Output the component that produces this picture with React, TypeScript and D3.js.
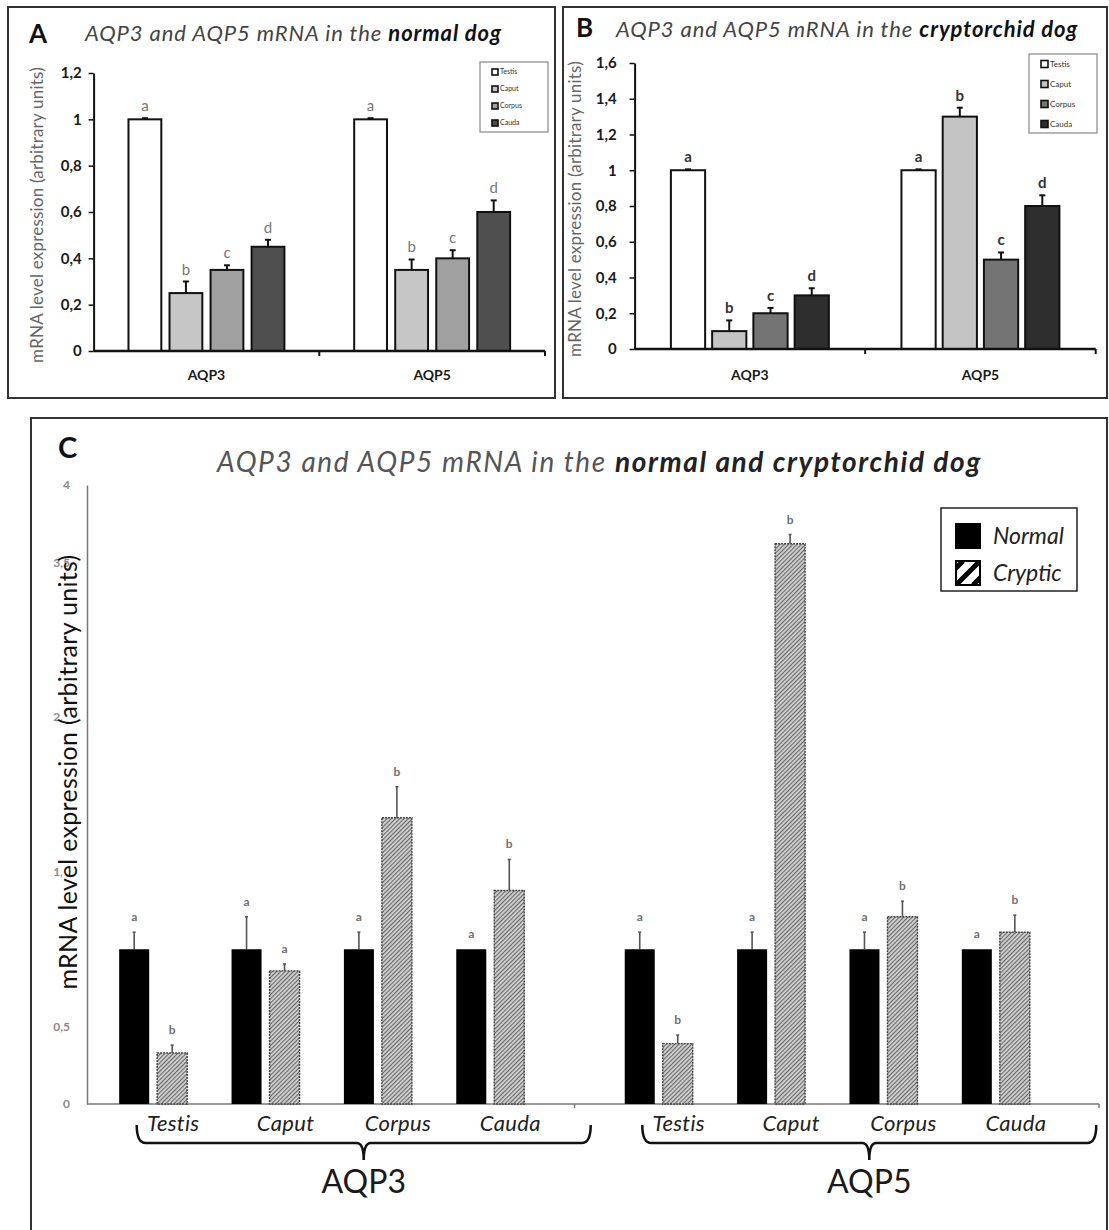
import React, { useRef, useEffect } from 'react'
import * as d3 from 'd3'

const genes = ['AQP3', 'AQP5']
const tissues = ['Testis', 'Caput', 'Corpus', 'Cauda']
const groupLetters = ['a', 'b', 'c', 'd']

// panel A - normal dog
const normalAqp3 = [1, 0.25, 0.35, 0.45]
const normalAqp3Err = [0.005, 0.05, 0.02, 0.03]
const normalAqp5 = [1, 0.35, 0.4, 0.6]
const normalAqp5Err = [0.005, 0.045, 0.035, 0.05]
const normalTicks = [0, 0.2, 0.4, 0.6, 0.8, 1, 1.2]

// panel B - cryptorchid dog
const cryptAqp3 = [1, 0.1, 0.2, 0.3]
const cryptAqp3Err = [0.005, 0.06, 0.03, 0.04]
const cryptAqp5 = [1, 1.3, 0.5, 0.8]
const cryptAqp5Err = [0.005, 0.05, 0.04, 0.06]
const cryptTicks = [0, 0.2, 0.4, 0.6, 0.8, 1, 1.2, 1.4, 1.6]

// panel C - normal vs cryptic (relative)
const series = ['Normal', 'Cryptic']
const cNormalAqp3 = [1, 1, 1, 1]
const cNormalAqp3Err = [0.11, 0.21, 0.11, 0]
const cCrypticAqp3 = [0.33, 0.86, 1.85, 1.38]
const cCrypticAqp3Err = [0.05, 0.045, 0.2, 0.2]
const cNormalAqp5 = [1, 1, 1, 1]
const cNormalAqp5Err = [0.11, 0.11, 0.11, 0]
const cCrypticAqp5 = [0.39, 3.62, 1.21, 1.11]
const cCrypticAqp5Err = [0.055, 0.06, 0.1, 0.11]
const cNormalLetters = ['a', 'a', 'a', 'a']
const cCrypticAqp3Letters = ['b', 'a', 'b', 'b']
const cCrypticAqp5Letters = ['b', 'b', 'b', 'b']
const combinedTicks = [0, 0.5, 1, 1.5, 2, 2.5, 3, 3.5, 4]

const yLabel = 'mRNA level expression (arbitrary units)'
const comma = (d: number) => String(d).replace('.', ',')

function drawTissuePanel(svg: any, cfg: any) {
  const x0 = d3.scaleBand<string>().domain(genes).range([cfg.left, cfg.right])
  const x1 = d3.scaleBand<string>().domain(tissues).range([0, x0.bandwidth()])
    .paddingInner(cfg.padIn).paddingOuter(cfg.padOut)
  const y = d3.scaleLinear().domain([0, cfg.max]).range([cfg.bottom, cfg.top])
  const g = svg.append('g')

  const rows = genes.flatMap((gene, gi) => tissues.map((tissue, i) => ({
    gene, tissue, i,
    value: gi === 0 ? cfg.aqp3[i] : cfg.aqp5[i],
    err: gi === 0 ? cfg.aqp3Err[i] : cfg.aqp5Err[i],
  })))
  const cx = (d: any) => (x0(d.gene) as number) + (x1(d.tissue) as number) + x1.bandwidth() / 2

  // error bars
  g.selectAll('.err').data(rows).enter().append('line')
    .attr('x1', cx).attr('x2', cx)
    .attr('y1', (d: any) => y(d.value)).attr('y2', (d: any) => y(d.value + d.err))
    .attr('stroke', '#111').attr('stroke-width', 2)
  g.selectAll('.cap').data(rows).enter().append('line')
    .attr('x1', (d: any) => cx(d) - 3).attr('x2', (d: any) => cx(d) + 3)
    .attr('y1', (d: any) => y(d.value + d.err)).attr('y2', (d: any) => y(d.value + d.err))
    .attr('stroke', '#111').attr('stroke-width', 2)

  g.selectAll('.bar').data(rows).enter().append('rect')
    .attr('x', (d: any) => (x0(d.gene) as number) + (x1(d.tissue) as number))
    .attr('y', (d: any) => y(d.value))
    .attr('width', x1.bandwidth())
    .attr('height', (d: any) => y(0) - y(d.value))
    .attr('fill', (d: any) => cfg.colors[d.i])
    .attr('stroke', '#111').attr('stroke-width', 2)

  g.selectAll('.letter').data(rows).enter().append('text')
    .attr('x', cx)
    .attr('y', (d: any) => y(d.value + d.err) - 7)
    .attr('text-anchor', 'middle')
    .attr('fill', cfg.letterColor)
    .style('font-size', '15px')
    .style('font-weight', cfg.letterWeight)
    .text((d: any) => groupLetters[d.i])

  // y axis
  const yAxisG = g.append('g')
    .attr('transform', `translate(${cfg.left},0)`)
    .call(d3.axisLeft(y).tickValues(cfg.ticks).tickSize(5).tickSizeOuter(0)
      .tickPadding(cfg.tickPad).tickFormat((d: any) => comma(d)))
  yAxisG.select('.domain').attr('stroke', '#111').attr('stroke-width', 2)
  yAxisG.selectAll('.tick line').attr('stroke', '#111').attr('stroke-width', 1.5)
  yAxisG.selectAll('.tick text')
    .attr('fill', '#1a1a1a')
    .style('font-size', '15px').style('font-weight', 'bold')
    .style('font-family', 'Lato, sans-serif')

  // x axis
  g.append('line')
    .attr('x1', cfg.left).attr('x2', cfg.right)
    .attr('y1', y(0)).attr('y2', y(0))
    .attr('stroke', '#111').attr('stroke-width', 2.5)
  g.selectAll('.xtick').data([x0('AQP5'), cfg.right]).enter().append('line')
    .attr('x1', (d: any) => d).attr('x2', (d: any) => d)
    .attr('y1', y(0)).attr('y2', y(0) + 5)
    .attr('stroke', '#111').attr('stroke-width', 2)
  g.selectAll('.gene').data(genes).enter().append('text')
    .attr('x', (d: string) => (x0(d) as number) + x0.bandwidth() / 2)
    .attr('y', 380)
    .attr('text-anchor', 'middle')
    .attr('fill', '#1a1a1a')
    .style('font-size', '14px').style('font-weight', 'bold')
    .text((d: string) => d)

  g.append('text')
    .attr('transform', `translate(${cfg.left - cfg.labelOffset},${(cfg.top + cfg.bottom) / 2 + 3}) rotate(-90)`)
    .attr('text-anchor', 'middle')
    .attr('fill', '#666')
    .style('font-size', '17px')
    .style('letter-spacing', '0.2px')
    .text(yLabel)

  // titles
  g.append('text')
    .attr('x', cfg.letterX).attr('y', cfg.letterY)
    .attr('fill', '#111')
    .style('font-size', '26px').style('font-weight', 'bold')
    .text(cfg.panel)
  const title = g.append('text')
    .attr('x', cfg.titleX).attr('y', cfg.titleY)
    .attr('fill', '#444')
    .style('font-size', '22px').style('font-style', 'italic')
    .style('letter-spacing', '0.9px')
  title.append('tspan').text('AQP3 and AQP5 mRNA in the ')
  title.append('tspan').attr('fill', '#111').style('font-weight', 'bold').text(cfg.dog)

  // legend
  const lg = cfg.legend
  g.append('rect')
    .attr('x', lg.x).attr('y', lg.y).attr('width', lg.w).attr('height', lg.h)
    .attr('fill', '#fff').attr('stroke', '#888').attr('stroke-width', 1.2)
  const ly = d3.scalePoint<string>().domain(tissues).range([lg.y + 10, lg.y + lg.h - 9])
  const items = g.selectAll('.leg').data(tissues).enter().append('g')
    .attr('transform', (d: string) => `translate(${lg.x + 12},${ly(d)})`)
  items.append('rect')
    .attr('x', 0).attr('y', -lg.s / 2).attr('width', lg.s).attr('height', lg.s)
    .attr('fill', (d: string, i: number) => cfg.colors[i])
    .attr('stroke', '#111').attr('stroke-width', 1.6)
  items.append('text')
    .attr('x', lg.s + 2).attr('y', lg.font * 0.35)
    .attr('fill', '#333')
    .style('font-size', `${lg.font}px`)
    .text((d: string) => d)
}

function drawCombined(svg: any) {
  const defs = svg.append('defs')
  const pat = defs.append('pattern').attr('id', 'hatch')
    .attr('patternUnits', 'userSpaceOnUse').attr('width', 3).attr('height', 3)
    .attr('patternTransform', 'rotate(45)')
  pat.append('rect').attr('width', 3).attr('height', 3).attr('fill', '#d2d2d2')
  pat.append('line').attr('x1', 0.5).attr('x2', 0.5).attr('y1', 0).attr('y2', 3)
    .attr('stroke', '#666').attr('stroke-width', 1.2)

  const x0 = d3.scaleBand<string>().domain(genes).range([97, 1052]).paddingInner(0.111)
  const x1 = d3.scaleBand<string>().domain(tissues).range([0, x0.bandwidth()])
  const xs = d3.scaleBand<string>().domain(series).range([0, x1.bandwidth()])
    .paddingInner(0.21).paddingOuter(0.584)
  const y = d3.scaleLinear().domain([0, 4]).range([1104, 485])
  const g = svg.append('g')

  const pick = (gene: string, s: string) => gene === 'AQP3'
    ? (s === 'Normal' ? [cNormalAqp3, cNormalAqp3Err, cNormalLetters] : [cCrypticAqp3, cCrypticAqp3Err, cCrypticAqp3Letters])
    : (s === 'Normal' ? [cNormalAqp5, cNormalAqp5Err, cNormalLetters] : [cCrypticAqp5, cCrypticAqp5Err, cCrypticAqp5Letters])
  const rows = genes.flatMap(gene => tissues.flatMap((tissue, i) => series.map(s => {
    const [vals, errs, lets] = pick(gene, s) as any
    return { gene, tissue, s, value: vals[i], err: errs[i], letter: lets[i] }
  })))
  const bx = (d: any) => (x0(d.gene) as number) + (x1(d.tissue) as number) + (xs(d.s) as number)
  const cx = (d: any) => bx(d) + xs.bandwidth() / 2

  // y axis with tick labels
  const yAxisG = g.append('g')
    .attr('transform', 'translate(87,0)')
    .call(d3.axisLeft(y).tickValues(combinedTicks).tickSize(0).tickPadding(17)
      .tickFormat((d: any) => comma(d)))
  yAxisG.select('.domain').attr('stroke', '#777').attr('stroke-width', 1.5)
  yAxisG.selectAll('.tick text')
    .attr('fill', '#8a8a8a')
    .style('font-size', '12px').style('font-weight', 'bold')
    .style('font-family', 'Lato, sans-serif')

  // axis title sits in a white box that hides part of the tick labels
  const labelG = g.append('g').attr('transform', 'translate(77,772) rotate(-90)')
  const lab = labelG.append('text')
    .attr('text-anchor', 'middle')
    .attr('fill', '#111')
    .style('font-size', '25px')
    .style('letter-spacing', '0.3px')
    .text(yLabel)
  const bb = (lab.node() as SVGTextElement).getBBox()
  labelG.insert('rect', 'text')
    .attr('x', bb.x).attr('width', bb.width - 18)
    .attr('y', -15).attr('height', 20)
    .attr('fill', '#fff')

  // x axis
  g.append('line')
    .attr('x1', 87).attr('x2', 1099).attr('y1', y(0)).attr('y2', y(0))
    .attr('stroke', '#777').attr('stroke-width', 1.5)
  const mid = ((x0('AQP3') as number) + x0.bandwidth() + (x0('AQP5') as number)) / 2
  g.selectAll('.xtick').data([mid, 1099]).enter().append('line')
    .attr('x1', (d: any) => d).attr('x2', (d: any) => d)
    .attr('y1', y(0)).attr('y2', y(0) + 4)
    .attr('stroke', '#777').attr('stroke-width', 1.5)

  // error bars
  const withErr = rows.filter(d => d.err > 0)
  g.selectAll('.err').data(withErr).enter().append('line')
    .attr('x1', cx).attr('x2', cx)
    .attr('y1', (d: any) => y(d.value)).attr('y2', (d: any) => y(d.value + d.err))
    .attr('stroke', '#555').attr('stroke-width', 1.6)
  g.selectAll('.cap').data(withErr).enter().append('line')
    .attr('x1', (d: any) => cx(d) - 1.5).attr('x2', (d: any) => cx(d) + 1.5)
    .attr('y1', (d: any) => y(d.value + d.err)).attr('y2', (d: any) => y(d.value + d.err))
    .attr('stroke', '#555').attr('stroke-width', 1.6)

  g.selectAll('.bar').data(rows).enter().append('rect')
    .attr('x', bx)
    .attr('y', (d: any) => y(d.value))
    .attr('width', xs.bandwidth())
    .attr('height', (d: any) => y(0) - y(d.value))
    .attr('fill', (d: any) => d.s === 'Normal' ? '#000' : 'url(#hatch)')
    .attr('stroke', (d: any) => d.s === 'Normal' ? 'none' : '#444')
    .attr('stroke-width', 1.4)
    .attr('stroke-dasharray', (d: any) => d.s === 'Normal' ? null : '2,1')

  g.selectAll('.letter').data(rows).enter().append('text')
    .attr('x', cx)
    .attr('y', (d: any) => y(d.value + d.err) - 11)
    .attr('text-anchor', 'middle')
    .attr('fill', '#707070')
    .style('font-size', '12px').style('font-weight', 'bold')
    .text((d: any) => d.letter)

  // tissue labels under the axis
  const tl = genes.flatMap(gene => tissues.map(tissue => ({ gene, tissue })))
  g.selectAll('.tissue').data(tl).enter().append('text')
    .attr('x', (d: any) => (x0(d.gene) as number) + (x1(d.tissue) as number) + x1.bandwidth() / 2 + 20)
    .attr('y', 1131)
    .attr('text-anchor', 'middle')
    .attr('fill', '#222')
    .style('font-size', '22px').style('font-style', 'italic')
    .style('letter-spacing', '0.3px')
    .text((d: any) => d.tissue)

  // braces with gene names
  const braces = g.selectAll('.brace').data(genes).enter().append('g')
    .attr('transform', (d: string) => `translate(${(x0(d) as number) + x0.bandwidth() / 2 + 42},0)`)
  braces.append('path')
    .attr('d', () => {
      const h = 227, t = 1125, m = 1143, b = 1160
      return `M${-h},${t} Q${-h},${m} ${-h + 9},${m} L-7,${m} Q0,${m} 0,${b} Q0,${m} 7,${m} L${h - 9},${m} Q${h},${m} ${h},${t}`
    })
    .attr('fill', 'none').attr('stroke', '#111').attr('stroke-width', 2.5)
  braces.append('text')
    .attr('y', 1193)
    .attr('text-anchor', 'middle')
    .attr('fill', '#1a1a1a')
    .style('font-size', '32px')
    .text((d: string) => d)

  // title
  g.append('text')
    .attr('x', 58).attr('y', 458)
    .attr('fill', '#111')
    .style('font-size', '29px').style('font-weight', 'bold')
    .text('C')
  const title = g.append('text')
    .attr('x', 217).attr('y', 472)
    .attr('fill', '#555')
    .style('font-size', '28px').style('font-style', 'italic')
    .style('letter-spacing', '1.6px')
  title.append('tspan').text('AQP3 and AQP5 mRNA in the ')
  title.append('tspan').attr('fill', '#222').style('font-weight', 'bold').text('normal and cryptorchid dog')

  // legend
  g.append('rect')
    .attr('x', 941).attr('y', 508).attr('width', 136).attr('height', 83)
    .attr('fill', '#fff').attr('stroke', '#222').attr('stroke-width', 1.5)
  const ly = d3.scalePoint<string>().domain(series).range([536, 573])
  const items = g.selectAll('.leg').data(series).enter().append('g')
    .attr('transform', (d: string) => `translate(956,${ly(d)})`)
  defs.append('clipPath').attr('id', 'swatchClip')
    .append('rect').attr('x', 0).attr('y', -12).attr('width', 24).attr('height', 24)
  items.append('rect')
    .attr('x', 0).attr('y', -12).attr('width', 24).attr('height', 24)
    .attr('fill', (d: string) => d === 'Normal' ? '#000' : '#fff')
  items.filter((d: string) => d === 'Cryptic').append('g')
    .attr('clip-path', 'url(#swatchClip)')
    .selectAll('line').data([-17, 0, 17]).enter().append('line')
    .attr('x1', (k: number) => k).attr('y1', 12)
    .attr('x2', (k: number) => k + 24).attr('y2', -12)
    .attr('stroke', '#000').attr('stroke-width', 5)
  items.append('rect')
    .attr('x', 0).attr('y', -12).attr('width', 24).attr('height', 24)
    .attr('fill', 'none').attr('stroke', '#000').attr('stroke-width', 2)
  items.append('text')
    .attr('x', 37).attr('y', 8)
    .attr('fill', '#222')
    .style('font-size', '23px').style('font-style', 'italic')
    .text((d: string) => d)
}

export default function App() {
  const visEl = useRef<SVGSVGElement>(null)
  const width = 1109
  const height = 1230

  useEffect(() => {
    const svg = d3.select(visEl.current)
    svg.selectAll('*').remove()

    // panel frames
    svg.append('rect').attr('x', 8).attr('y', 7).attr('width', 547).attr('height', 391)
      .attr('fill', '#fff').attr('stroke', '#333').attr('stroke-width', 2)
    svg.append('rect').attr('x', 563).attr('y', 7).attr('width', 544).attr('height', 391)
      .attr('fill', '#fff').attr('stroke', '#333').attr('stroke-width', 2)
    svg.append('rect').attr('x', 31).attr('y', 418).attr('width', 1076).attr('height', 830)
      .attr('fill', '#fff').attr('stroke', '#333').attr('stroke-width', 2)

    drawTissuePanel(svg, {
      panel: 'A', dog: 'normal dog',
      left: 93.6, right: 545, top: 73, bottom: 351, max: 1.2, ticks: normalTicks,
      aqp3: normalAqp3, aqp3Err: normalAqp3Err, aqp5: normalAqp5, aqp5Err: normalAqp5Err,
      colors: ['#ffffff', '#c6c6c6', '#a0a0a0', '#4f4f4f'],
      padIn: 0.2, padOut: 0.85, tickPad: 7, labelOffset: 51,
      letterColor: '#777', letterWeight: 'normal',
      letterX: 29, letterY: 43, titleX: 85, titleY: 41,
      legend: { x: 480, y: 62, w: 68, h: 70, s: 6, font: 7 },
    })
    drawTissuePanel(svg, {
      panel: 'B', dog: 'cryptorchid dog',
      left: 634.6, right: 1095.7, top: 63, bottom: 349, max: 1.6, ticks: cryptTicks,
      aqp3: cryptAqp3, aqp3Err: cryptAqp3Err, aqp5: cryptAqp5, aqp5Err: cryptAqp5Err,
      colors: ['#ffffff', '#c4c4c4', '#747474', '#2e2e2e'],
      padIn: 0.17, padOut: 0.88, tickPad: 13, labelOffset: 54,
      letterColor: '#333', letterWeight: 'bold',
      letterX: 576, letterY: 37, titleX: 616, titleY: 37,
      legend: { x: 1029, y: 54, w: 68, h: 79, s: 7, font: 8 },
    })
    drawCombined(svg)
  })

  return (
    <svg
      ref={visEl}
      width={width}
      height={height}
      style={{ position: 'absolute', left: 0, top: 0, background: '#fff', fontFamily: 'Lato, "Open Sans", sans-serif' }}
    />
  )
}
